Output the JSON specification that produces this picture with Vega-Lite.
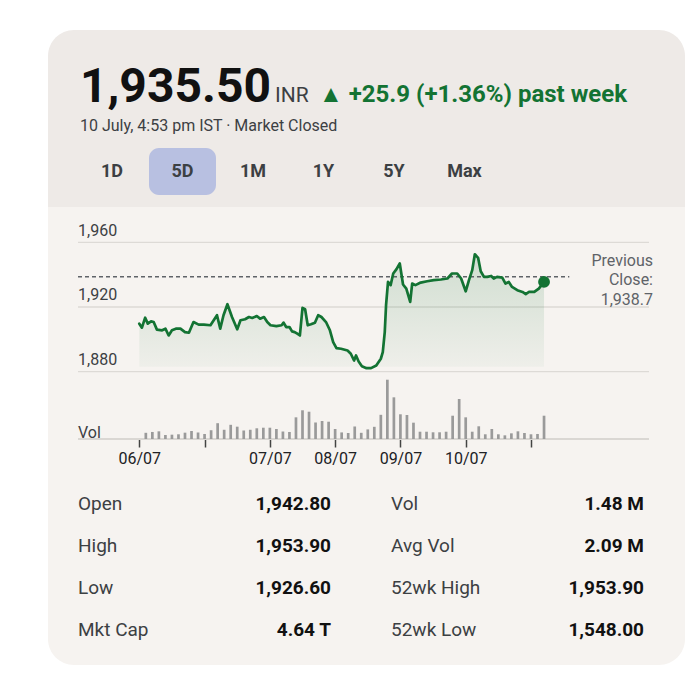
{
  "$schema": "https://vega.github.io/schema/vega-lite/v6.json",
  "background": "#ffffff",
  "padding": {"left": 48, "top": 30, "right": 12, "bottom": 17},
  "config": {
    "view": {"stroke": null},
    "font": "Roboto",
    "title": {"font": "Roboto", "subtitleFont": "Roboto"},
    "text": {"font": "Roboto"},
    "axis": {"labelFont": "Roboto"}
  },
  "title": {
    "text": "▲ +25.9 (+1.36%) past week",
    "anchor": "start",
    "orient": "top",
    "fontSize": 24,
    "fontWeight": "bold",
    "color": "#137333",
    "dx": 271,
    "offset": -77
  },
  "datasets": {
    "tabs": [
      {"tab": "1D", "control": "range", "selected": false},
      {"tab": "5D", "control": "range", "selected": true},
      {"tab": "1M", "control": "range", "selected": false},
      {"tab": "1Y", "control": "range", "selected": false},
      {"tab": "5Y", "control": "range", "selected": false},
      {"tab": "Max", "control": "range", "selected": false}
    ],
    "grid": [{"p": 1880}, {"p": 1920}, {"p": 1960}],
    "close": [{"close": 1938.7, "note": "Previous Close: 1,938.7"}],
    "volbase": [{"vol": 0, "label": "Vol"}],
    "price": [
      {"s": 0, "p": 1909.7}, {"s": 0.4, "p": 1907.2}, {"s": 0.9, "p": 1913.4}, {"s": 1.3, "p": 1909.7},
      {"s": 1.8, "p": 1911.1}, {"s": 2.2, "p": 1910.7}, {"s": 2.7, "p": 1906.0}, {"s": 3.5, "p": 1905.6},
      {"s": 4.0, "p": 1906.6}, {"s": 4.5, "p": 1902.4}, {"s": 5.0, "p": 1905.6}, {"s": 5.6, "p": 1906.6},
      {"s": 6.3, "p": 1906.6}, {"s": 7.0, "p": 1904.5}, {"s": 7.6, "p": 1904.1}, {"s": 8.3, "p": 1910.7},
      {"s": 9.1, "p": 1909.1}, {"s": 9.9, "p": 1909.1}, {"s": 10.9, "p": 1908.7}, {"s": 11.4, "p": 1911.8},
      {"s": 11.9, "p": 1914.9}, {"s": 12.4, "p": 1906.6}, {"s": 12.9, "p": 1914.9}, {"s": 13.5, "p": 1921.7},
      {"s": 14.2, "p": 1913.8}, {"s": 15.0, "p": 1906.2}, {"s": 15.5, "p": 1911.8}, {"s": 16.2, "p": 1912.4},
      {"s": 16.8, "p": 1913.8}, {"s": 17.3, "p": 1913.2}, {"s": 18.0, "p": 1914.4}, {"s": 18.5, "p": 1912.8},
      {"s": 19.1, "p": 1913.8}, {"s": 19.6, "p": 1910.7}, {"s": 20.1, "p": 1908.7}, {"s": 21.0, "p": 1908.2},
      {"s": 21.8, "p": 1908.7}, {"s": 22.1, "p": 1910.3}, {"s": 22.5, "p": 1907.6}, {"s": 23.0, "p": 1907.6},
      {"s": 23.4, "p": 1904.9}, {"s": 23.8, "p": 1904.5}, {"s": 24.2, "p": 1903.5}, {"s": 24.6, "p": 1902.4},
      {"s": 25.0, "p": 1919.4}, {"s": 25.4, "p": 1918.6}, {"s": 25.8, "p": 1908.7}, {"s": 26.3, "p": 1909.3},
      {"s": 26.9, "p": 1910.3}, {"s": 27.4, "p": 1914.9}, {"s": 27.9, "p": 1913.8}, {"s": 28.6, "p": 1910.7},
      {"s": 29.2, "p": 1905.6}, {"s": 29.7, "p": 1898.3}, {"s": 30.2, "p": 1894.6}, {"s": 30.9, "p": 1894.2},
      {"s": 31.9, "p": 1893.1}, {"s": 32.4, "p": 1891.1}, {"s": 32.9, "p": 1886.9}, {"s": 33.2, "p": 1890.0},
      {"s": 33.6, "p": 1886.3}, {"s": 34.1, "p": 1883.4}, {"s": 34.8, "p": 1882.2}, {"s": 35.5, "p": 1882.2},
      {"s": 36.3, "p": 1883.8}, {"s": 37.0, "p": 1888.0}, {"s": 37.3, "p": 1892.1}, {"s": 37.6, "p": 1904.5},
      {"s": 37.8, "p": 1921.1}, {"s": 38.1, "p": 1935.5}, {"s": 38.5, "p": 1933.5}, {"s": 38.9, "p": 1940.7},
      {"s": 39.4, "p": 1943.4}, {"s": 39.9, "p": 1946.9}, {"s": 40.4, "p": 1933.9}, {"s": 40.9, "p": 1931.4},
      {"s": 41.5, "p": 1923.1}, {"s": 41.8, "p": 1934.5}, {"s": 42.3, "p": 1933.5}, {"s": 43.1, "p": 1935.1},
      {"s": 44.1, "p": 1935.9}, {"s": 45.1, "p": 1936.6}, {"s": 46.2, "p": 1937.0}, {"s": 47.2, "p": 1937.6},
      {"s": 47.9, "p": 1940.7}, {"s": 48.7, "p": 1940.7}, {"s": 49.3, "p": 1937.6}, {"s": 50.0, "p": 1929.7},
      {"s": 50.5, "p": 1936.6}, {"s": 51.0, "p": 1942.8}, {"s": 51.4, "p": 1952.6}, {"s": 51.9, "p": 1950.4},
      {"s": 52.3, "p": 1942.1}, {"s": 52.8, "p": 1938.6}, {"s": 53.3, "p": 1938.6}, {"s": 53.9, "p": 1939.2},
      {"s": 54.3, "p": 1937.6}, {"s": 54.8, "p": 1938.6}, {"s": 55.6, "p": 1938.2}, {"s": 56.1, "p": 1934.5},
      {"s": 56.6, "p": 1935.5}, {"s": 57.1, "p": 1932.4}, {"s": 57.9, "p": 1930.4}, {"s": 58.7, "p": 1929.3},
      {"s": 59.2, "p": 1928.0}, {"s": 59.7, "p": 1929.3}, {"s": 60.5, "p": 1929.3}, {"s": 61.2, "p": 1931.4},
      {"s": 62.0, "p": 1935.5}
    ],
    "volume": [
      {"s": 1, "vol": 96}, {"s": 2, "vol": 109}, {"s": 3, "vol": 119}, {"s": 4, "vol": 62},
      {"s": 5, "vol": 67}, {"s": 6, "vol": 73}, {"s": 7, "vol": 98}, {"s": 8, "vol": 124},
      {"s": 9, "vol": 101}, {"s": 10, "vol": 78}, {"s": 11, "vol": 136}, {"s": 12, "vol": 245},
      {"s": 13, "vol": 143}, {"s": 14, "vol": 220}, {"s": 15, "vol": 191}, {"s": 16, "vol": 132},
      {"s": 17, "vol": 143}, {"s": 18, "vol": 166}, {"s": 19, "vol": 175}, {"s": 20, "vol": 175},
      {"s": 21, "vol": 155}, {"s": 22, "vol": 116}, {"s": 23, "vol": 109}, {"s": 24, "vol": 336},
      {"s": 25, "vol": 445}, {"s": 26, "vol": 423}, {"s": 27, "vol": 256}, {"s": 28, "vol": 279},
      {"s": 29, "vol": 268}, {"s": 30, "vol": 155}, {"s": 31, "vol": 102}, {"s": 32, "vol": 93},
      {"s": 33, "vol": 194}, {"s": 34, "vol": 96}, {"s": 35, "vol": 149}, {"s": 36, "vol": 189},
      {"s": 37, "vol": 375}, {"s": 38, "vol": 919}, {"s": 39, "vol": 646}, {"s": 40, "vol": 383},
      {"s": 41, "vol": 372}, {"s": 42, "vol": 253}, {"s": 43, "vol": 113}, {"s": 44, "vol": 113},
      {"s": 45, "vol": 104}, {"s": 46, "vol": 104}, {"s": 47, "vol": 113}, {"s": 48, "vol": 361},
      {"s": 49, "vol": 620}, {"s": 50, "vol": 336}, {"s": 51, "vol": 113}, {"s": 52, "vol": 197},
      {"s": 53, "vol": 73}, {"s": 54, "vol": 155}, {"s": 55, "vol": 73}, {"s": 56, "vol": 57},
      {"s": 57, "vol": 88}, {"s": 58, "vol": 119}, {"s": 59, "vol": 93}, {"s": 60, "vol": 73},
      {"s": 61, "vol": 78}, {"s": 62, "vol": 361}
    ],
    "stats": [
      {"row": 1, "col": "left", "label": "Open", "value": "1,942.80"},
      {"row": 2, "col": "left", "label": "High", "value": "1,953.90"},
      {"row": 3, "col": "left", "label": "Low", "value": "1,926.60"},
      {"row": 4, "col": "left", "label": "Mkt Cap", "value": "4.64 T"},
      {"row": 1, "col": "right", "label": "Vol", "value": "1.48 M"},
      {"row": 2, "col": "right", "label": "Avg Vol", "value": "2.09 M"},
      {"row": 3, "col": "right", "label": "52wk High", "value": "1,953.90"},
      {"row": 4, "col": "right", "label": "52wk Low", "value": "1,548.00"}
    ]
  },
  "spacing": 0,
  "bounds": "flush",
  "vconcat": [
    {
      "width": 637,
      "height": 177,
      "view": {"fill": "#eeeae7", "cornerRadiusTopLeft": 26, "cornerRadiusTopRight": 26, "stroke": null},
      "title": {
        "text": "1,935.50",
        "subtitle": "10 July, 4:53 pm IST · Market Closed",
        "anchor": "start",
        "frame": "group",
        "fontSize": 48,
        "fontWeight": "bold",
        "color": "#111111",
        "subtitleFontSize": 16,
        "subtitleFontWeight": "normal",
        "subtitleColor": "#3c4043",
        "subtitlePadding": 6,
        "dx": 32,
        "offset": -104
      },
      "data": {"name": "tabs"},
      "encoding": {
        "x": {"field": "tab", "type": "nominal", "sort": null, "axis": null,
              "scale": {"type": "band", "domain": ["1D", "5D", "1M", "1Y", "5Y", "Max"], "paddingInner": 0.04965, "paddingOuter": 0, "range": [30.5, 450]}},
        "y": {"field": "control", "type": "nominal", "axis": null,
              "scale": {"type": "band", "paddingInner": 0, "paddingOuter": 0, "range": [118, 165]}}
      },
      "layer": [
        {"transform": [{"filter": "datum.selected"}],
         "mark": {"type": "rect", "color": "#b8c0e1", "cornerRadius": 10}},
        {"mark": {"type": "text", "fontSize": 18, "fontWeight": "bold", "color": "#3c4043", "baseline": "middle", "align": "center"},
         "encoding": {"text": {"field": "tab"}}}
      ]
    },
    {
      "width": 637,
      "height": 458,
      "view": {"fill": "#f6f3f0", "cornerRadiusBottomLeft": 26, "cornerRadiusBottomRight": 26, "stroke": null},
      "title": {
        "text": "INR",
        "anchor": "start",
        "frame": "group",
        "fontSize": 21,
        "fontWeight": "normal",
        "color": "#3c4043",
        "dx": 227,
        "offset": 100.6
      },
      "resolve": {"scale": {"x": "independent", "y": "independent"}, "axis": {"x": "independent", "y": "independent"}},
      "layer": [
        {
          "layer": [
            {"data": {"name": "grid"},
             "mark": {"type": "rule", "color": "#dddad6", "strokeWidth": 1.3},
             "encoding": {
               "x": {"datum": -9.39, "type": "quantitative", "axis": null, "scale": {"domain": [-13.986, 83.594], "nice": false, "zero": false, "padding": 0}},
               "x2": {"datum": 78.08},
               "y": {"field": "p", "type": "quantitative", "axis": null, "scale": {"domain": [1698.67, 1981.82], "nice": false, "zero": false, "padding": 0}}}},
            {"data": {"name": "price"},
             "mark": {"type": "area", "line": false,
                      "color": {"gradient": "linear", "x1": 0, "y1": 0, "x2": 0, "y2": 1,
                                "stops": [{"offset": 0, "color": "rgba(19,115,51,0.17)"}, {"offset": 1, "color": "rgba(19,115,51,0.03)"}]}},
             "encoding": {
               "x": {"field": "s", "type": "quantitative", "axis": null},
               "y": {"field": "p", "type": "quantitative", "axis": null},
               "y2": {"datum": 1883}}},
            {"data": {"name": "grid"},
             "mark": {"type": "text", "align": "left", "baseline": "alphabetic", "dy": -6.6, "fontSize": 16, "color": "#3c4043"},
             "encoding": {
               "x": {"datum": -9.39, "type": "quantitative", "axis": null},
               "y": {"field": "p", "type": "quantitative", "axis": null},
               "text": {"field": "p", "type": "quantitative", "format": ","}}},
            {"data": {"name": "close"},
             "mark": {"type": "rule", "color": "#5f6368", "strokeWidth": 1.5, "strokeDash": [4, 3]},
             "encoding": {
               "x": {"datum": -9.39, "type": "quantitative", "axis": null},
               "x2": {"datum": 65.87},
               "y": {"field": "close", "type": "quantitative", "axis": null}}},
            {"data": {"name": "price"},
             "mark": {"type": "line", "color": "#137333", "strokeWidth": 2.7, "strokeJoin": "round", "strokeCap": "round"},
             "encoding": {
               "x": {"field": "s", "type": "quantitative", "axis": null},
               "y": {"field": "p", "type": "quantitative", "axis": null}}},
            {"data": {"name": "price"},
             "transform": [{"filter": "datum.s == 62"}],
             "mark": {"type": "point", "filled": true, "size": 140, "color": "#137333", "opacity": 1},
             "encoding": {
               "x": {"field": "s", "type": "quantitative", "axis": null},
               "y": {"field": "p", "type": "quantitative", "axis": null}}},
            {"data": {"name": "close"},
             "mark": {"type": "text", "align": "right", "baseline": "alphabetic", "lineBreak": " ", "lineHeight": 19.5, "dy": -10.8, "fontSize": 16, "color": "#5f6368"},
             "encoding": {
               "x": {"datum": 78.69, "type": "quantitative", "axis": null},
               "y": {"field": "close", "type": "quantitative", "axis": null},
               "text": {"field": "note"}}}
          ]
        },
        {
          "layer": [
            {"data": {"name": "volbase"},
             "mark": {"type": "rule", "color": "#dad7d3", "strokeWidth": 2},
             "encoding": {
               "x": {"datum": -9.39, "type": "quantitative",
                     "scale": {"domain": [-13.986, 83.594], "nice": false, "zero": false, "padding": 0},
                     "axis": {"values": [0, 10, 20, 30, 40, 50, 60],
                              "labelExpr": "datum.value == 0 ? '06/07' : datum.value == 20 ? '07/07' : datum.value == 30 ? '08/07' : datum.value == 40 ? '09/07' : datum.value == 50 ? '10/07' : ''",
                              "offset": -226, "domain": false, "grid": false, "ticks": true, "tickSize": 8, "tickColor": "#444444", "tickWidth": 1.5,
                              "labels": true, "labelFontSize": 16, "labelColor": "#202124", "labelPadding": 3.7, "title": null,
                              "labelFlush": false, "labelOverlap": false}},
               "x2": {"datum": 78.08},
               "y": {"field": "vol", "type": "quantitative", "axis": null, "scale": {"domain": [-3503, 3596], "nice": false, "zero": false, "padding": 0}}}},
            {"data": {"name": "volume"},
             "mark": {"type": "bar", "color": "#9a9a9a", "width": 2.7},
             "encoding": {
               "x": {"field": "s", "type": "quantitative"},
               "y": {"field": "vol", "type": "quantitative", "axis": null}}},
            {"data": {"name": "volbase"},
             "mark": {"type": "text", "align": "left", "baseline": "alphabetic", "dy": -1.5, "fontSize": 16, "color": "#3c4043"},
             "encoding": {
               "x": {"datum": -9.39, "type": "quantitative"},
               "y": {"field": "vol", "type": "quantitative", "axis": null},
               "text": {"field": "label"}}}
          ]
        },
        {
          "data": {"name": "stats"},
          "layer": [
            {"mark": {"type": "text", "align": "left", "baseline": "alphabetic", "fontSize": 19, "color": "#3c4043"},
             "encoding": {
               "x": {"field": "col", "type": "nominal", "bandPosition": 0, "axis": null, "sort": null,
                     "scale": {"type": "band", "domain": ["left", "right"], "paddingInner": 0.19169, "paddingOuter": 0, "range": [30, 596]}},
               "y": {"field": "row", "type": "ordinal", "axis": null,
                     "scale": {"type": "point", "domain": [1, 2, 3, 4], "padding": 0, "range": [303, 429]}},
               "text": {"field": "label"}}},
            {"mark": {"type": "text", "align": "right", "baseline": "alphabetic", "fontSize": 19, "fontWeight": "bold", "color": "#111111"},
             "encoding": {
               "x": {"field": "col", "type": "nominal", "bandPosition": 1, "axis": null, "sort": null,
                     "scale": {"type": "band", "domain": ["left", "right"], "paddingInner": 0.19169, "paddingOuter": 0, "range": [30, 596]}},
               "y": {"field": "row", "type": "ordinal", "axis": null,
                     "scale": {"type": "point", "domain": [1, 2, 3, 4], "padding": 0, "range": [303, 429]}},
               "text": {"field": "value"}}}
          ]
        }
      ]
    }
  ]
}
